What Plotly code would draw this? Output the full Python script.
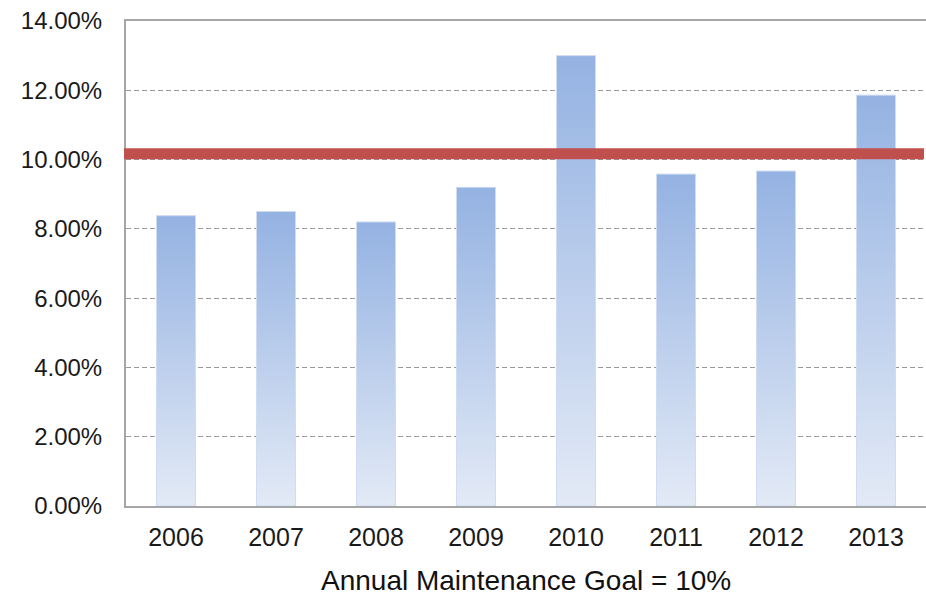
import plotly.graph_objects as go

years = ["2006", "2007", "2008", "2009", "2010", "2011", "2012", "2013"]
values = [8.38, 8.50, 8.20, 9.20, 13.00, 9.58, 9.67, 11.86]
goal_level = 10.17
y_ticks = [0, 2, 4, 6, 8, 10, 12, 14]
y_ticktext = ["0.00%", "2.00%", "4.00%", "6.00%", "8.00%", "10.00%", "12.00%", "14.00%"]
caption = "Annual Maintenance Goal = 10%"

bar_width = 0.39
top_color = "#94b2e2"
bottom_color = "#e3eaf6"

fig = go.Figure()
xs = list(range(len(years)))
fig.add_trace(go.Bar(x=xs, y=values, width=bar_width, marker=dict(color="#b8cbec", line=dict(width=0)),
                     hovertext=years, showlegend=False))

for i, v in enumerate(values):
    x0, x1 = i - bar_width / 2, i + bar_width / 2
    fig.add_trace(go.Scatter(
        x=[x0, x1, x1, x0, x0], y=[0, 0, v, v, 0], mode="lines",
        line=dict(width=1, color="#cfdcf2"), fill="toself",
        fillgradient=dict(type="vertical", colorscale=[[0, bottom_color], [1, top_color]]),
        hoverinfo="skip", showlegend=False))

fig.add_shape(type="line", xref="paper", yref="y", x0=-0.0025, x1=0.9975,
              y0=goal_level, y1=goal_level, line=dict(color="#c0504d", width=11), layer="above")

fig.add_annotation(text=caption, xref="paper", yref="paper", x=0.5, y=0, yanchor="middle",
                   yshift=-74, showarrow=False, font=dict(size=28, color="#111111",
                   family="Liberation Sans, Arial, sans-serif"))

fig.update_layout(
    width=926, height=598,
    margin=dict(l=126, r=0, t=21, b=92),
    paper_bgcolor="white", plot_bgcolor="white",
    font=dict(family="Liberation Sans, Arial, sans-serif", color="#1a1a1a"),
    bargap=0.61,
    xaxis=dict(range=[-0.5, 7.5], tickvals=xs, ticktext=years, showgrid=False, zeroline=False,
               showline=True, linecolor="#a6a6a6", linewidth=2, mirror=True, ticks="",
               tickfont=dict(size=25), ticklabelstandoff=8),
    yaxis=dict(range=[0, 14], tickvals=y_ticks, ticktext=y_ticktext, showgrid=True,
               gridcolor="#9a9a9a", griddash="5px,3px", gridwidth=1, zeroline=False,
               showline=True, linecolor="#a6a6a6", linewidth=2, ticks="",
               tickfont=dict(size=24), ticklabelstandoff=17),
)

fig.write_html("out.html")
